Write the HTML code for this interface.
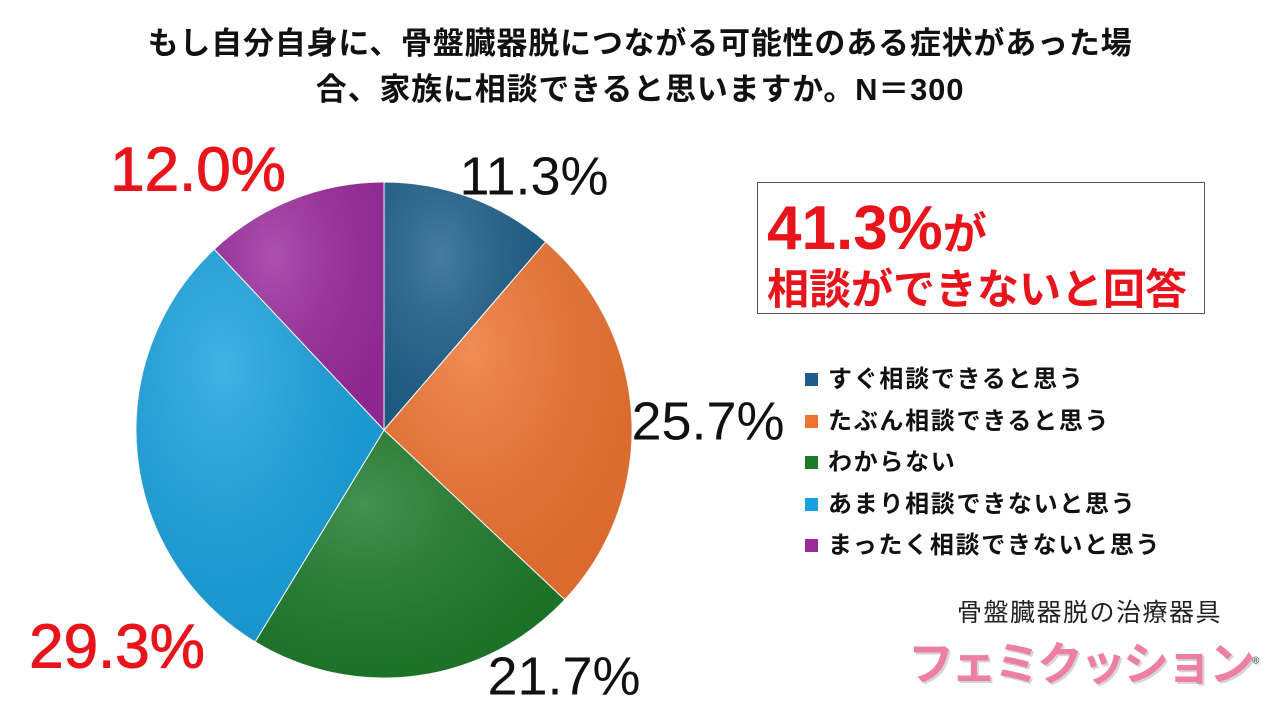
<!DOCTYPE html>
<html><head><meta charset="utf-8"><style>
body{margin:0;width:1280px;height:720px;background:#fff;overflow:hidden;font-family:"Liberation Sans","Noto Sans CJK JP",sans-serif;position:relative}
.t{position:absolute;white-space:nowrap}
</style></head><body>
<div class="t" style="left:0;width:1280px;text-align:center;top:21px;font-size:31px;font-weight:bold;line-height:46px;color:#111;letter-spacing:0.8px">もし自分自身に、骨盤臓器脱につながる可能性のある症状があった場<br>合、家族に相談できると思いますか。N＝300</div>
<svg id="pie" width="1280" height="720" style="position:absolute;left:0;top:0">
<defs><radialGradient id="sh" cx="0.35" cy="0.3" r="0.8"><stop offset="0" stop-color="#fff" stop-opacity="0.18"/><stop offset="1" stop-color="#000" stop-opacity="0.08"/></radialGradient></defs>
</svg>
<div class="t" style="left:757px;top:182px;width:446px;height:130px;border:1px solid #555;color:#e8141b;font-weight:bold">
<div style="position:absolute;left:9px;top:14px;font-size:62px;line-height:64px">41.3%<span style="font-size:44px">が</span></div>
<div style="position:absolute;left:9px;top:84px;font-size:42px;line-height:46px">相談ができないと回答</div></div>
<div id="legend" class="t" style="left:805px;top:359px"></div>
<div class="t" style="left:957px;top:593px;font-size:25px;color:#222;letter-spacing:1.5px">骨盤臓器脱の治療器具</div>
<div class="t" style="left:908px;top:628px;font-size:46px;font-weight:bold;color:#ec7fa3;letter-spacing:-3px;text-shadow:2px 2px 0 #d5d5d5">フェミクッション<sup style="font-size:10px;color:#666">®</sup></div>
<script>
const categories=["すぐ相談できると思う","たぶん相談できると思う","わからない","あまり相談できないと思う","まったく相談できないと思う"];
const values=[11.3,25.7,21.7,29.3,12.0];
const colors=["#1d5f8a","#ee7330","#1c7a2a","#17a2df","#9a2a9c"];
const labelColors=["#111","#111","#111","#e8141b","#e8141b"];
const labelSizes=[54,54,54,62,62];
const labelPos=[[534,175],[708,420],[564,675],[117,645],[198,168]];
const cx=384,cy=430,r=248,NS="http://www.w3.org/2000/svg";
const svg=document.getElementById('pie');
const tot=values.reduce((a,b)=>a+b,0);
let a0=-Math.PI/2;
values.forEach((v,i)=>{
 const a1=a0+v/tot*2*Math.PI;
 const x0=cx+r*Math.cos(a0),y0=cy+r*Math.sin(a0),x1=cx+r*Math.cos(a1),y1=cy+r*Math.sin(a1);
 const d=`M${cx},${cy}L${x0},${y0}A${r},${r} 0 ${a1-a0>Math.PI?1:0} 1 ${x1},${y1}Z`;
 const p=document.createElementNS(NS,'path');p.setAttribute('d',d);p.setAttribute('fill',colors[i]);p.setAttribute('stroke','#fff');p.setAttribute('stroke-width','1');
 
 
 svg.appendChild(p);
 const q=document.createElementNS(NS,'path');q.setAttribute('d',d);q.setAttribute('fill','url(#sh)');q.setAttribute('pointer-events','none');
 
 
 svg.appendChild(q);
 const t=document.createElementNS(NS,'text');t.setAttribute('x',labelPos[i][0]);t.setAttribute('y',labelPos[i][1]+labelSizes[i]*0.36);t.setAttribute('text-anchor','middle');
 t.setAttribute('font-size',labelSizes[i]);t.setAttribute('fill',labelColors[i]);t.setAttribute('font-family','Liberation Sans, sans-serif');
 if(i>=3){t.setAttribute('stroke',labelColors[i]);t.setAttribute('stroke-width','1');}
 t.textContent=v.toFixed(1)+'%';
 
 
 svg.appendChild(t);
 a0=a1;
});
const lg=document.getElementById('legend');
categories.forEach((c,i)=>{
 const row=document.createElement('div');row.style.cssText='height:41.5px;line-height:41.5px;font-size:24px;font-weight:bold;color:#111;letter-spacing:1.7px';
 
 
 row.innerHTML=`<span style="display:inline-block;width:13px;height:13px;background:${colors[i]};margin-right:10px;vertical-align:1px"></span>${c}`;
 lg.appendChild(row);
});
</script>
</body></html>
